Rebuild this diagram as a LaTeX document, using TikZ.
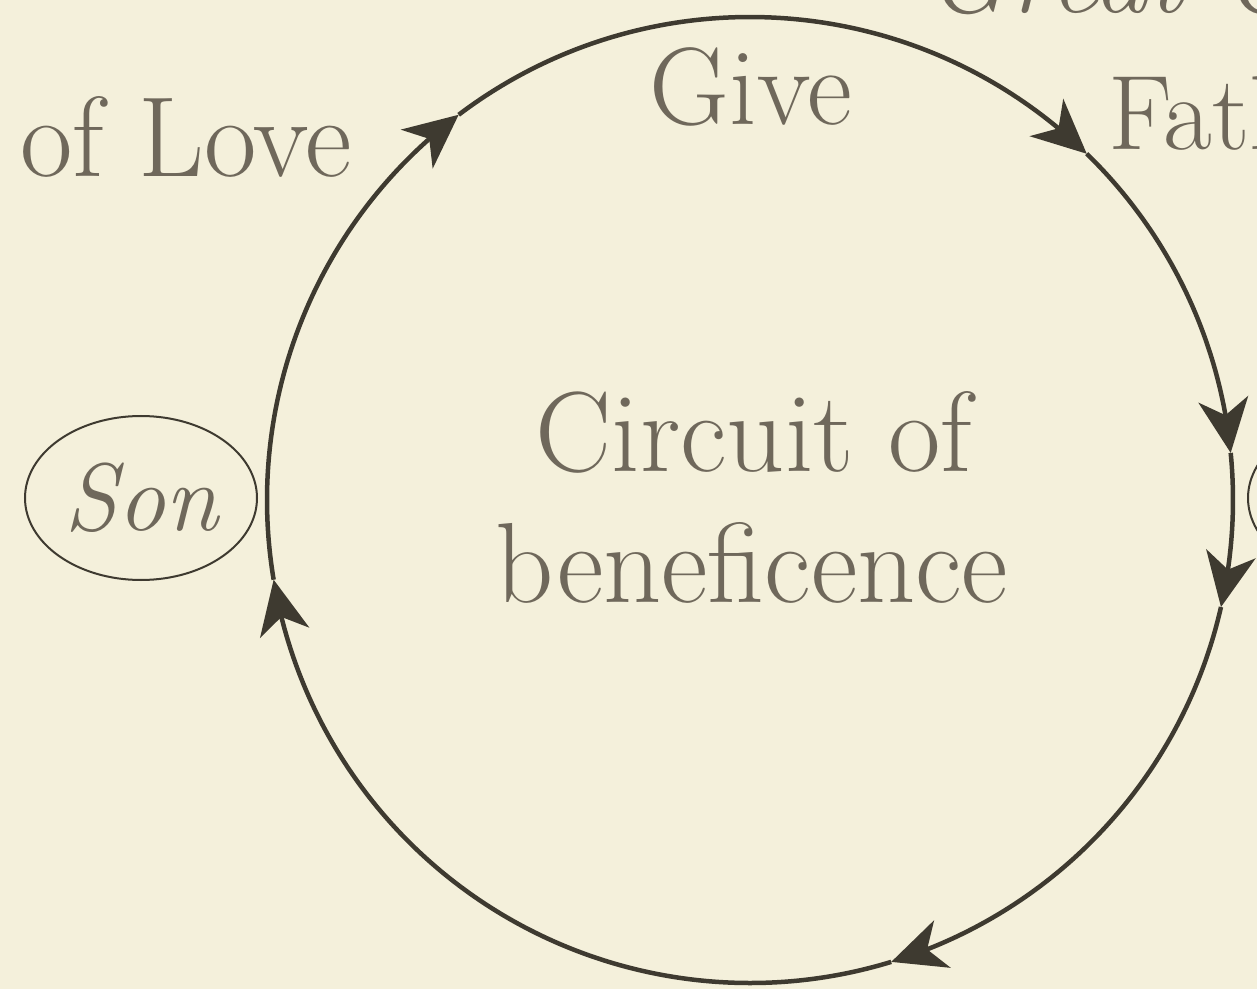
\documentclass[tikz,border=0pt]{standalone}
\usetikzlibrary{arrows.meta,shapes.geometric,bending,calc}
\definecolor{bgcream}{RGB}{244,240,219}
\definecolor{inkdark}{RGB}{62,58,48}
\definecolor{txtgray}{RGB}{111,104,91}
\tikzset{
  cyc/.style={line width=4.5pt, draw=inkdark, -{Stealth[length=54pt,width=50pt,inset=16pt,flex]}},
  bigtxt/.style={text=txtgray, inner sep=0pt, font=\fontsize{114}{130}\selectfont},
  givetxt/.style={text=txtgray, inner sep=0pt, font=\fontsize{110}{120}\selectfont},
  itbig/.style={text=txtgray, inner sep=0pt, font=\fontsize{110}{130}\selectfont\itshape},
  personoval/.style={ellipse, draw=inkdark, line width=2pt, minimum width=232pt, minimum height=164pt, inner sep=0pt, text=txtgray, font=\fontsize{96}{100}\selectfont\itshape}
}
\begin{document}
\begin{tikzpicture}[x=1pt,y=1pt]
\useasboundingbox (0,0) rectangle (1257,989);
\clip (0,0) rectangle (1257,989);
\fill[bgcream] (0,0) rectangle (1257,989);
\coordinate (C) at (750,489);
% texts
\node[itbig, anchor=base west] (great) at (925,976) {Great Ch};
\node[givetxt, anchor=base] (give) at (751,864) {Give};
\node[bigtxt, anchor=base west] (love) at (20,812) {of Love};
\node[bigtxt, anchor=base west, font=\fontsize{106}{130}\selectfont] (father) at (1108,839) {Father};
\node[bigtxt, anchor=base] (circ1) at (754,517) {Circuit of};
\node[bigtxt, anchor=base] (circ2) at (752,387) {beneficence};
\node[personoval] (son) at (141,491) {\raisebox{-8pt}{Son}};
\node[personoval] (other) at (1364,491) {};
% circuit arcs, clockwise
\draw[cyc] ($(C)+(189.5:483)$) arc[start angle=189.5, end angle=127.1, radius=483];
\draw[cyc] ($(C)+(127.1:483)$) arc[start angle=127.1, end angle=45.8, radius=483];
\draw[cyc] ($(C)+(45.8:483)$) arc[start angle=45.8, end angle=5.6, radius=483];
\draw[cyc] ($(C)+(5.6:483)$) arc[start angle=5.6, end angle=-12.8, radius=483];
\draw[cyc] ($(C)+(-12.8:483)$) arc[start angle=-12.8, end angle=-73, radius=483];
\draw[cyc] ($(C)+(-73:483)$) arc[start angle=-73, end angle=-170.5, radius=483];
\end{tikzpicture}
\end{document}
